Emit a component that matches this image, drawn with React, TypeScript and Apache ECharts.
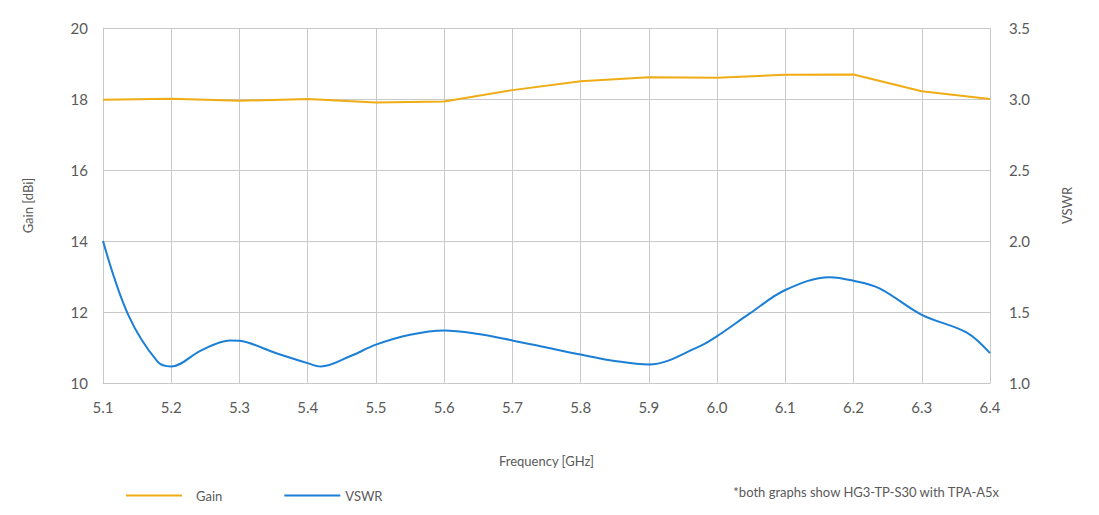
import React, { useEffect, useRef } from "react";
import * as echarts from "echarts";

const gainFreq = [5.1, 5.2, 5.3, 5.4, 5.5, 5.6, 5.7, 5.8, 5.9, 6.0, 6.1, 6.2, 6.3, 6.4];
const gainValues = [17.98, 18.01, 17.95, 18.0, 17.9, 17.93, 18.25, 18.5, 18.61, 18.6, 18.68, 18.69, 18.22, 18.0];

const vswrFreq = [5.1, 5.137, 5.18, 5.2, 5.244, 5.286, 5.3, 5.354, 5.4, 5.419, 5.463, 5.5, 5.55, 5.6, 5.65, 5.7, 5.75, 5.8, 5.85, 5.9, 5.975, 6.0, 6.048, 6.1, 6.165, 6.2, 6.238, 6.3, 6.366, 6.4];
const vswrValues = [2.0, 1.48, 1.15, 1.116, 1.23, 1.3, 1.297, 1.21, 1.14, 1.116, 1.19, 1.27, 1.34, 1.37, 1.345, 1.3, 1.25, 1.2, 1.155, 1.13, 1.26, 1.33, 1.49, 1.655, 1.745, 1.72, 1.667, 1.48, 1.355, 1.21];

const seriesNames = ["Gain", "VSWR"];
const xAxisTitle = "Frequency [GHz]";
const leftAxisTitle = "Gain [dBi]";
const rightAxisTitle = "VSWR";
const footnote = "*both graphs show HG3-TP-S30 with TPA-A5x";

const FONT = "Lato, 'Open Sans', sans-serif";
const GAIN_COLOR = "#efac14";
const VSWR_COLOR = "#1b7fd6";
const GRID_COLOR = "#c9c9c9";
const TEXT_COLOR = "#5a5a5a";

export default function App() {
  const ref = useRef<HTMLDivElement>(null);
  useEffect(() => {
    if (!ref.current) return;
    const chart = echarts.init(ref.current, null, { renderer: "svg" });
    const gainData = gainFreq.map((f, i) => [f, gainValues[i]]);
    const vswrData = vswrFreq.map((f, i) => [f, vswrValues[i]]);
    chart.setOption({
      animation: false,
      backgroundColor: "#ffffff",
      textStyle: { fontFamily: FONT },
      grid: { left: 103, right: 109, top: 28, bottom: 132, containLabel: false },
      legend: {
        left: 126,
        top: 489,
        padding: 0,
        itemWidth: 56,
        itemHeight: 2,
        itemGap: 62,
        icon: "rect",
        textStyle: { color: TEXT_COLOR, fontSize: 13, fontFamily: FONT },
        data: [
          { name: seriesNames[0], textStyle: { padding: [0, 0, 0, 9] } },
          { name: seriesNames[1] },
        ],
      },
      graphic: [
        {
          type: "text",
          right: 99,
          top: 485,
          style: { text: footnote, fill: TEXT_COLOR, fontSize: 13, fontFamily: FONT },
        },
      ],
      xAxis: {
        type: "value",
        min: 5.1,
        max: 6.4,
        interval: 0.1,
        name: xAxisTitle,
        nameLocation: "middle",
        nameGap: 71,
        nameTextStyle: { color: TEXT_COLOR, fontSize: 13, fontFamily: FONT },
        axisLine: { show: true, lineStyle: { color: GRID_COLOR, width: 1 } },
        axisTick: { show: false },
        axisLabel: {
          color: TEXT_COLOR,
          fontSize: 15,
          margin: 16,
          fontFamily: FONT,
          formatter: (v: number) => v.toFixed(1),
        },
        splitLine: { show: true, lineStyle: { color: GRID_COLOR, width: 1 } },
      },
      yAxis: [
        {
          type: "value",
          min: 10,
          max: 20,
          interval: 2,
          position: "left",
          name: leftAxisTitle,
          nameLocation: "middle",
          nameRotate: 90,
          nameGap: 69,
          nameTextStyle: { color: TEXT_COLOR, fontSize: 13, fontFamily: FONT },
          axisLine: { show: true, lineStyle: { color: GRID_COLOR, width: 1 } },
          axisTick: { show: false },
          axisLabel: { color: TEXT_COLOR, fontSize: 15, margin: 15, fontFamily: FONT },
          splitLine: { show: true, lineStyle: { color: GRID_COLOR, width: 1 } },
        },
        {
          type: "value",
          min: 1,
          max: 3.5,
          interval: 0.5,
          position: "right",
          name: rightAxisTitle,
          nameLocation: "middle",
          nameRotate: 90,
          nameGap: 70,
          nameTextStyle: { color: TEXT_COLOR, fontSize: 13, fontFamily: FONT },
          axisLine: { show: false },
          axisTick: { show: false },
          axisLabel: {
            color: TEXT_COLOR,
            fontSize: 15,
            margin: 19,
            fontFamily: FONT,
            formatter: (v: number) => v.toFixed(1),
          },
          splitLine: { show: false },
        },
      ],
      series: [
        {
          name: seriesNames[0],
          type: "line",
          yAxisIndex: 0,
          data: gainData,
          showSymbol: false,
          symbol: "none",
          lineStyle: { color: GAIN_COLOR, width: 2 },
          itemStyle: { color: GAIN_COLOR },
        },
        {
          name: seriesNames[1],
          type: "line",
          yAxisIndex: 1,
          data: vswrData,
          showSymbol: false,
          symbol: "none",
          smooth: 0.35,
          lineStyle: { color: VSWR_COLOR, width: 2 },
          itemStyle: { color: VSWR_COLOR },
        },
      ],
    });
    return () => chart.dispose();
  }, []);
  return (
    <div
      ref={ref}
      style={{ position: "fixed", left: 0, top: 0, width: 1099, height: 515 }}
    />
  );
}
